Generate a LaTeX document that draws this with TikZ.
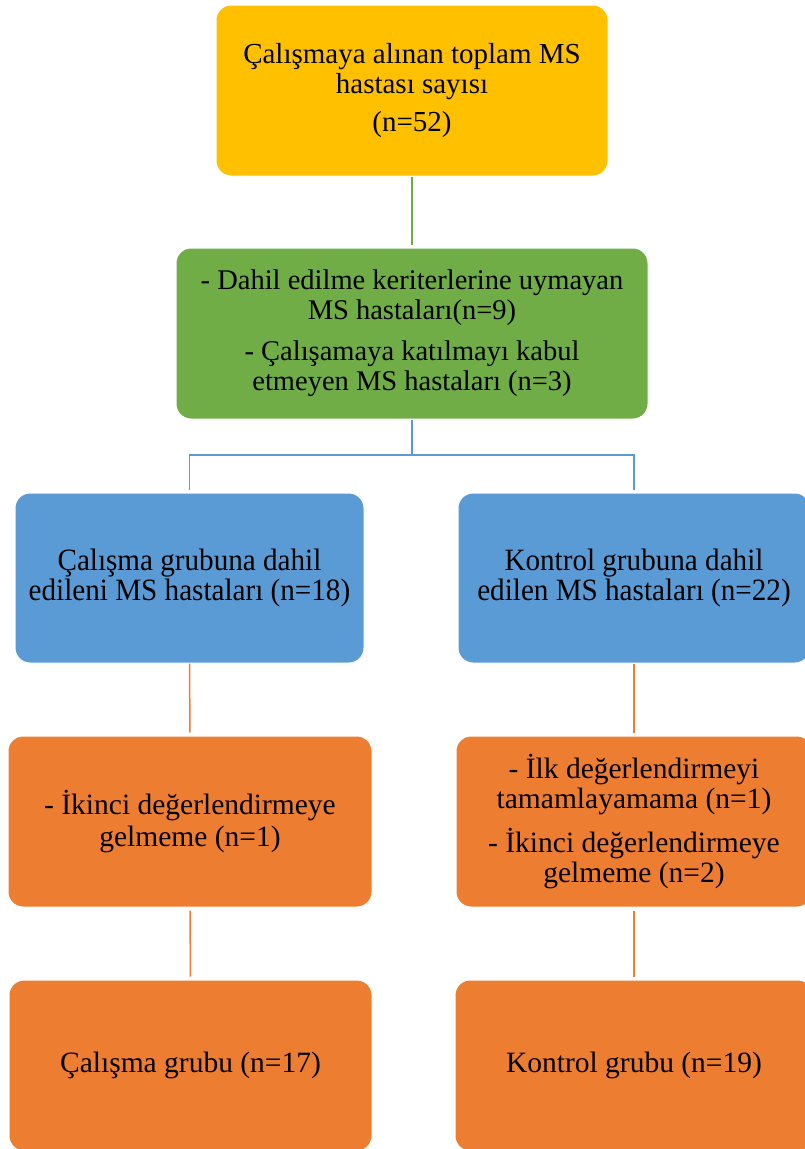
\documentclass[tikz,border=0pt]{standalone}
\usepackage{fontspec}
\setmainfont{Liberation Serif}
\newfontfamily\condfont[FakeStretch=0.94]{Liberation Serif}
\definecolor{gold}{HTML}{FFC000}
\definecolor{mgreen}{HTML}{70AD47}
\definecolor{mblue}{HTML}{5B9BD5}
\definecolor{morange}{HTML}{ED7D31}
\tikzset{
  box/.style={rounded corners=15pt, draw=white, line width=1pt, align=center, inner sep=0pt, text=black},
  goldbox/.style={box, fill=gold, minimum width=392pt, minimum height=171pt, font={\fontsize{29}{30}\selectfont}},
  greenbox/.style={box, fill=mgreen, minimum width=472pt, minimum height=171pt, font={\fontsize{28.5}{30}\selectfont}},
  bluebox/.style={box, fill=mblue, minimum height=170pt, font={\fontsize{31}{30}\condfont}},
  orangebox/.style={box, fill=morange, minimum height=171pt, font={\fontsize{29.5}{31.5}\selectfont}},
  link/.style={line width=1.5pt},
}
\begin{document}
\begin{tikzpicture}[x=1pt,y=-1pt]
\useasboundingbox (0,0) rectangle (805,1149);
\clip (0,0) rectangle (805,1149);

\node[goldbox] (top) at (412,90.5) {Çalışmaya alınan toplam MS\\hastası sayısı\\[8pt](n=52)};
\node[greenbox] (excl) at (412,333.5) {- Dahil edilme keriterlerine uymayan\\MS hastaları(n=9)\\[11pt]- Çalışamaya katılmayı kabul\\etmeyen MS hastaları (n=3)};
\node[bluebox, minimum width=349pt] (bl) at (189.5,578) {Çalışma grubuna dahil\\edileni MS hastaları (n=18)};
\node[bluebox, minimum width=352pt] (br) at (634,578) {Kontrol grubuna dahil\\edilen MS hastaları (n=22)};
\node[orangebox, minimum width=364pt] (ol) at (190,821.5) {- İkinci değerlendirmeye\\gelmeme (n=1)};
\node[orangebox, minimum width=356pt, font={\fontsize{29.5}{30}\selectfont}] (or) at (634,821.5) {- İlk değerlendirmeyi\\tamamlayamama (n=1)\\[12pt]- İkinci değerlendirmeye\\gelmeme (n=2)};
\node[orangebox, minimum width=363pt] (fl) at (190.5,1065.5) {Çalışma grubu (n=17)};
\node[orangebox, minimum width=358pt] (fr) at (634,1065.5) {Kontrol grubu (n=19)};

\coordinate (split) at (412,455);

\draw[link, mgreen, shorten >=3pt] (top.south) -- (excl.north);
\draw[link, mblue] (excl.south) -- (split);
\draw[link, mblue, shorten >=3pt] (split) -| (bl.north);
\draw[link, mblue, shorten >=3pt] (split) -| (br.north);
\draw[link, morange, shorten >=3pt] (bl.south) -- (ol.north);
\draw[link, morange, shorten >=3pt] (br.south) -- (or.north);
\draw[link, morange, shorten <=3pt, shorten >=3pt] (ol.south) -- (fl.north);
\draw[link, morange, shorten <=3pt, shorten >=3pt] (or.south) -- (fr.north);
\end{tikzpicture}
\end{document}
